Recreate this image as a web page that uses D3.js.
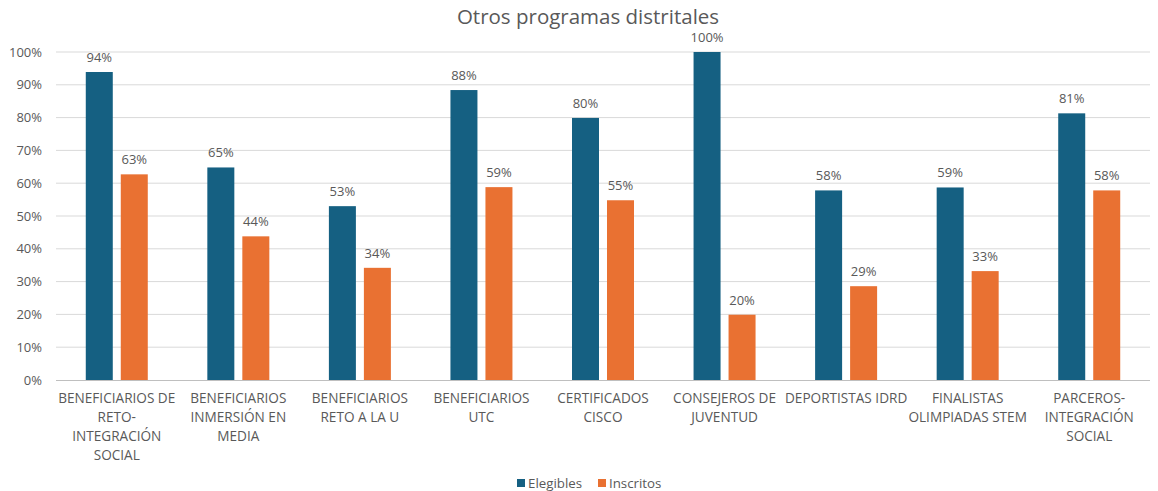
<!DOCTYPE html>
<html><head><meta charset="utf-8">
<script src="https://cdn.jsdelivr.net/npm/d3@7"></script>
<style>body{margin:0;background:#fff;} svg{display:block;font-family:"Open Sans",sans-serif;}</style>
</head><body>
<svg id="c" width="1158" height="491"></svg>
<script>
const categories = ["BENEFICIARIOS DE RETO-INTEGRACIÓN SOCIAL","BENEFICIARIOS INMERSIÓN EN MEDIA","BENEFICIARIOS RETO A LA U","BENEFICIARIOS UTC","CERTIFICADOS CISCO","CONSEJEROS DE JUVENTUD","DEPORTISTAS IDRD","FINALISTAS OLIMPIADAS STEM","PARCEROS-INTEGRACIÓN SOCIAL"];
const categoryLines = [["BENEFICIARIOS DE","RETO-","INTEGRACIÓN","SOCIAL"],["BENEFICIARIOS","INMERSIÓN EN","MEDIA"],["BENEFICIARIOS","RETO A LA U"],["BENEFICIARIOS","UTC"],["CERTIFICADOS","CISCO"],["CONSEJEROS DE","JUVENTUD"],["DEPORTISTAS IDRD"],["FINALISTAS","OLIMPIADAS STEM"],["PARCEROS-","INTEGRACIÓN","SOCIAL"]];
const elegibles = [0.939, 0.648, 0.530, 0.884, 0.799, 1.0, 0.578, 0.587, 0.813];
const inscritos = [0.627, 0.438, 0.342, 0.588, 0.548, 0.199, 0.286, 0.332, 0.578];
const seriesNames = ["Elegibles","Inscritos"];
const colors = ["#156082","#E97132"];
const yTicks = [0,0.1,0.2,0.3,0.4,0.5,0.6,0.7,0.8,0.9,1.0];

const svg = d3.select("#c");
const L = 56, R = 1150, T = 52, B = 380;
const x = d3.scaleBand().domain(categories).range([L,R]);
const y = d3.scaleLinear().domain([0,1]).range([B,T]);
const fmt = d3.format(".0%");
const txt = "#595959";

svg.append("text").attr("x",588).attr("y",24).attr("text-anchor","middle")
  .attr("font-size",20.5).attr("fill",txt).text("Otros programas distritales");

// grid
svg.append("g").selectAll("line").data(yTicks.slice(1)).join("line")
  .attr("x1",L).attr("x2",R).attr("y1",d=>y(d)).attr("y2",d=>y(d))
  .attr("stroke","#d9d9d9").attr("stroke-width",1);
// y labels
svg.append("g").selectAll("text").data(yTicks).join("text")
  .attr("x",42).attr("y",d=>y(d)+4.5).attr("text-anchor","end")
  .attr("font-size",13).attr("fill",txt).text(d=>fmt(d));

const bw = 27, gap = 8;
const series = [elegibles, inscritos];
series.forEach((vals,si)=>{
  const off = si===0 ? -gap/2 - bw : gap/2;
  const g = svg.append("g");
  g.selectAll("rect").data(vals).join("rect")
    .attr("x",(d,i)=>x(categories[i])+x.bandwidth()/2+off)
    .attr("y",d=>y(d)).attr("width",bw).attr("height",d=>B-y(d))
    .attr("fill",colors[si]);
  g.selectAll("text").data(vals).join("text")
    .attr("x",(d,i)=>x(categories[i])+x.bandwidth()/2+off+bw/2)
    .attr("y",d=>y(d)-10).attr("text-anchor","middle")
    .attr("font-size",13).attr("fill",txt).text(d=>fmt(d));
});

// axis line
svg.append("line").attr("x1",L).attr("x2",R).attr("y1",B+0.5).attr("y2",B+0.5)
  .attr("stroke","#bfbfbf").attr("stroke-width",1);

// category labels
const cg = svg.append("g");
categories.forEach((c,i)=>{
  const t = cg.append("text").attr("text-anchor","middle").attr("font-size",13.6).attr("fill",txt);
  categoryLines[i].forEach((ln,j)=>{
    t.append("tspan").attr("x",x(c)+x.bandwidth()/2).attr("y",403+j*19).text(ln);
  });
});

// legend
const lg = svg.append("g");
const lx = [517, 598];
seriesNames.forEach((n,i)=>{
  lg.append("rect").attr("x",lx[i]).attr("y",479).attr("width",8).attr("height",8).attr("fill",colors[i]);
  lg.append("text").attr("x",lx[i]+11).attr("y",487.5).attr("font-size",13.3).attr("fill",txt).text(n);
});
</script>
</body></html>
